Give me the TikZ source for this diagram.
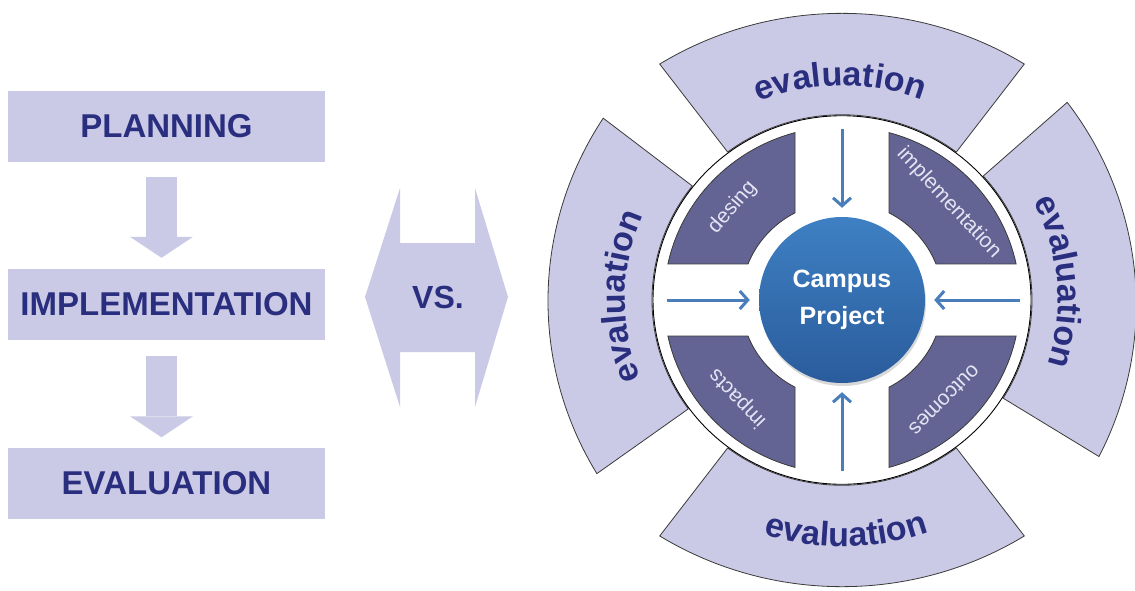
\documentclass[tikz,border=0pt]{standalone}
\usepackage{fontspec}
\setmainfont{Liberation Sans}
\usetikzlibrary{arrows.meta,decorations.text,shadows,calc}
\definecolor{lav}{HTML}{CBCAE6}
\definecolor{navy}{HTML}{2A2E7E}
\definecolor{piece}{HTML}{646494}
\definecolor{arrowblue}{HTML}{4A7EBB}
\definecolor{ctop}{HTML}{3E80C3}
\definecolor{cbot}{HTML}{2A5C9C}
\definecolor{lbl}{HTML}{E4E4F4}
\definecolor{edge}{HTML}{3A3A3A}
\newcommand\bandfont{\fontsize{34}{34}\selectfont\bfseries\color{navy}}
\begin{document}
\begin{tikzpicture}[x=1pt,y=1pt,
  stagebox/.style={fill=lav, minimum width=317pt, minimum height=71pt, inner sep=0pt,
    text=navy, font=\fontsize{33}{33}\selectfont\bfseries},
  blockarrow/.style={draw=lav, line width=31pt,
    -{Triangle[length=21pt, width=63pt, line width=0pt]}},
  band/.style={fill=lav, draw=edge, line width=0.8pt, line join=miter},
  pieceshape/.style={fill=piece, draw=edge, line width=0.8pt},
  piecelabel/.style={text=lbl, font=\fontsize{21}{21}\selectfont, inner sep=0pt},
  bluearrow/.style={draw=arrowblue, line width=3pt,
    -{Straight Barb[length=8pt, width=18pt]}, shorten >=9pt},
  bandtext/.style={decorate, decoration={text along path, text align=center,
    text={|\bandfont|evaluation}}}
]
\useasboundingbox (0,0) rectangle (1135,-590);

% ---------- left: linear process ----------
\node[stagebox] (plan) at (166.5,-126.5) {PLANNING};
\node[stagebox] (impl) at (166.5,-304.5) {IMPLEMENTATION};
\node[stagebox] (eval) at (166.5,-483) {EVALUATION};
\draw[blockarrow] ([xshift=-5pt,yshift=-15pt]plan.south) -- ([xshift=-5pt,yshift=11pt]impl.north);
\draw[blockarrow] ([xshift=-5pt,yshift=-16pt]impl.south) -- ([xshift=-5pt,yshift=10pt]eval.north);

% ---------- VS double arrow ----------
\fill[lav] (365,-297) -- (400,-188) -- (400,-243) -- (475,-243) -- (475,-188)
  -- (508,-297) -- (475,-407) -- (475,-352) -- (400,-352) -- (400,-407) -- cycle;
\node[text=navy, font=\fontsize{32}{32}\selectfont\bfseries] (vs) at (438,-297) {VS.};

% ---------- right: cycle ----------
\begin{scope}[shift={(842,-300)}, yscale=0.975]
  % outer evaluation bands
  \foreach \a in {90,5,270,179}{
    \draw[band, rotate=\a] (-37:190) -- (242,-182.3)
      arc[start angle=-31.85, end angle=31.85, radius=345.5]
      -- (37:190) arc[start angle=37, end angle=-37, radius=190] -- cycle;
  }
  \path[bandtext] (120.5:220) arc[start angle=120.5, end angle=60.5, radius=220];
  \path[bandtext] (35:216) arc[start angle=35, end angle=-25, radius=216];
  \path[bandtext] (241:253) arc[start angle=241, end angle=301, radius=253];
  \path[bandtext] (209:217) arc[start angle=209, end angle=149, radius=217];

  % white disk
  \draw[fill=white, draw=black, line width=0.9pt] (0,0) circle (189);

  % dark quarter pieces
  \draw[pieceshape] (62.27:101) -- (74.69:178) arc[start angle=74.69, end angle=12.0, radius=178]
    -- (21.49:101) arc[start angle=21.49, end angle=62.27, radius=101] -- cycle;
  \draw[pieceshape] (117.73:101) -- (105.31:178) arc[start angle=105.31, end angle=168.0, radius=178]
    -- (158.51:101) arc[start angle=158.51, end angle=117.73, radius=101] -- cycle;
  \draw[pieceshape] (242.27:101) -- (254.69:178) arc[start angle=254.69, end angle=192.0, radius=178]
    -- (201.49:101) arc[start angle=201.49, end angle=242.27, radius=101] -- cycle;
  \draw[pieceshape] (297.73:101) -- (285.31:178) arc[start angle=285.31, end angle=348.0, radius=178]
    -- (338.51:101) arc[start angle=338.51, end angle=297.73, radius=101] -- cycle;

  \node[piecelabel, rotate=49] (ldes) at (139:145) {desing};
  \node[piecelabel, rotate=-47] (limp) at (43:146) {implementation};
  \node[piecelabel, rotate=134] (lipa) at (224:145) {impacts};
  \node[piecelabel, rotate=225] (lout) at (315:145) {outcomes};

  % centre
  \node[circle, minimum size=166pt, inner sep=0pt, top color=ctop, bottom color=cbot,
    drop shadow={opacity=0.3, shadow xshift=1pt, shadow yshift=-3pt},
    text=white, font=\fontsize{25}{37}\selectfont\bfseries, align=center]
    (campus) at (0,0) {Campus\\Project};

  \coordinate (atop) at (0,175);
  \coordinate (abot) at (0,-175);
  \coordinate (aleft) at (-175,0);
  \coordinate (aright) at (178,0);
  \draw[bluearrow] (atop) -- (campus);
  \draw[bluearrow] (abot) -- (campus);
  \draw[bluearrow] (aleft) -- (campus);
  \draw[bluearrow] (aright) -- (campus);
\end{scope}
\end{tikzpicture}
\end{document}
